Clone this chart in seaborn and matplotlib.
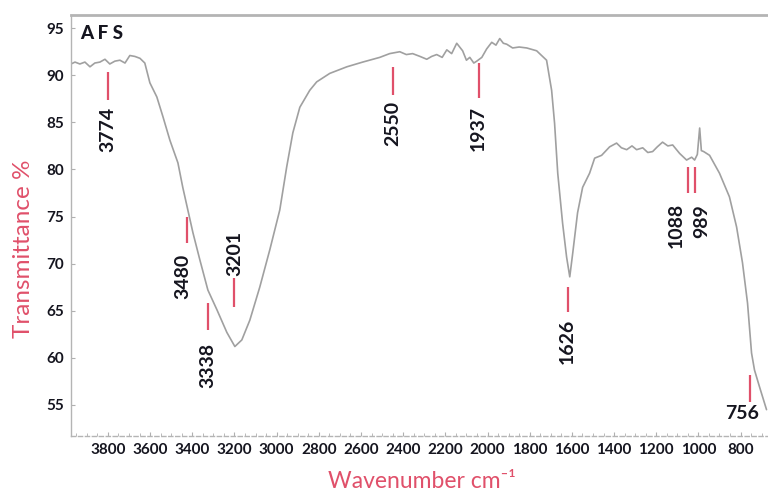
import matplotlib
matplotlib.use("Agg")
import matplotlib.pyplot as plt
import numpy as np
import pandas as pd
import seaborn as sns

# ── spectrum ────────────────────────────────────────────────────────────────
wavenumber = [
    3975, 3956, 3933, 3909, 3885, 3862, 3838, 3814, 3791, 3767, 3743, 3719,
    3696, 3672, 3648, 3625, 3601, 3568, 3539, 3506, 3468, 3445, 3421,
    3397, 3364, 3326, 3283, 3236, 3198, 3165, 3127, 3080, 3032, 2985, 2952,
    2923, 2890, 2843, 2810, 2748, 2667, 2592, 2511, 2464, 2416, 2385, 2355,
    2320, 2288, 2265, 2241, 2215, 2193, 2170, 2146, 2118, 2100, 2084, 2065,
    2051, 2027, 2004, 1980, 1960, 1942, 1925, 1909, 1881, 1850, 1814, 1767,
    1753, 1720, 1696, 1682, 1667, 1644, 1625, 1610, 1596, 1573, 1549, 1516,
    1492, 1459, 1421, 1388, 1365, 1340, 1315, 1293, 1264, 1240, 1217, 1195,
    1170, 1145, 1122, 1089, 1056, 1032, 1018, 1005, 994, 986, 975, 947,
    900, 853, 819, 791, 767, 748, 734, 710, 677,
]
transmittance = [
    91.2, 91.4, 91.2, 91.4, 90.9, 91.3, 91.4, 91.7, 91.2, 91.5, 91.6, 91.3,
    92.1, 92.0, 91.8, 91.3, 89.2, 87.7, 85.6, 83.1, 80.7, 78.1, 75.7,
    73.3, 70.4, 67.2, 65.1, 62.7, 61.2, 61.9, 64.0, 67.5, 71.5, 75.7, 80.3,
    83.9, 86.6, 88.4, 89.3, 90.2, 90.9, 91.4, 91.9, 92.3, 92.5, 92.2, 92.3,
    92.0, 91.7, 92.0, 92.2, 91.9, 92.7, 92.3, 93.4, 92.6, 91.6, 91.9, 91.3,
    91.5, 91.9, 92.8, 93.5, 93.2, 93.9, 93.4, 93.3, 92.9, 93.0, 92.9, 92.6,
    92.3, 91.6, 88.4, 84.9, 79.6, 74.3, 70.7, 68.6, 71.1, 75.4, 78.1, 79.6,
    81.2, 81.5, 82.4, 82.8, 82.3, 82.1, 82.5, 82.1, 82.3, 81.8, 81.9, 82.4,
    82.9, 82.5, 82.6, 81.7, 81.0, 81.3, 81.0, 81.6, 84.4, 82.0, 81.9, 81.5,
    79.6, 77.1, 73.9, 70.1, 65.8, 60.5, 58.7, 56.9, 54.5,
]

# peak labels and where their markers sit on the wavenumber axis
peak_labels = ["3774", "3480", "3338", "3201", "2550", "1937", "1626", "1088", "989", "756"]
peak_pos = [3800, 3426, 3326, 3203, 2449, 2042, 1620, 1051, 1018, 757]

# marker layout: (line top, line bottom, text x, text y, rotation)
mark_layout = [
    (90.3, 87.4, 3800, 84.2, 90),
    (75.0, 72.2, 3445, 68.6, 90),
    (65.8, 63.0, 3326, 59.2, 90),
    (68.5, 65.4, 3198, 71.1, 90),
    (90.9, 87.9, 2449, 84.9, 90),
    (91.3, 87.6, 2042, 84.3, 90),
    (67.5, 64.9, 1620, 61.7, 90),
    (80.3, 77.5, 1103, 74.1, 90),
    (80.3, 77.5, 985, 74.5, 90),
    (58.2, 55.3, 795, 54.1, 0),
]

RED = "#e0506a"
INK = "#15151f"

sns.set_theme(style="white")
plt.rcParams["font.family"] = ["Lato", "DejaVu Sans"]

fig = plt.figure(figsize=(7.68, 4.95), dpi=100)
ax = fig.add_axes([71 / 768, 1 - 436 / 495, 697 / 768, 421 / 495])

df = pd.DataFrame({"wn": wavenumber, "T": transmittance})
sns.lineplot(data=df, x="wn", y="T", sort=False, color="#a0a0a0", lw=1.2, ax=ax)

ax.set_xlim(3975, 670)
ax.set_ylim(51.7, 96.4)
ax.set_xticks(np.arange(3800, 700, -200))
ax.set_yticks(np.arange(55, 96, 5))
ax.set_xticks(np.arange(3950, 670, -50), minor=True)

ax.tick_params(axis="both", which="major", direction="in", length=3, width=0.8,
               color="#b0b0b0", labelsize=11, labelcolor=INK, pad=5)
ax.tick_params(axis="x", which="minor", direction="in", length=2, width=0.6,
               color="#b0b0b0", bottom=True)
ax.tick_params(axis="x", bottom=True)
ax.tick_params(axis="y", left=True)
for lab in ax.get_xticklabels() + ax.get_yticklabels():
    lab.set_fontweight("bold")

for side in ["top", "left", "bottom", "right"]:
    ax.spines[side].set_color("#b4b4b4")
ax.spines["top"].set_linewidth(2.0)
ax.spines["left"].set_linewidth(1.0)
ax.spines["bottom"].set_linewidth(1.0)
ax.spines["bottom"].set_linestyle((0, (3, 2)))
ax.spines["right"].set_visible(False)

ax.set_xlabel("Wavenumber cm\u207b\u00b9", fontsize=16.5, color=RED, va="center")
ax.xaxis.set_label_coords(0.504, -0.108)
ax.set_ylabel("Transmittance %", fontsize=17.5, color=RED, va="center")
ax.yaxis.set_label_coords(-0.068, 0.445)

ax.text(0.013, 0.955, "A F S", transform=ax.transAxes, fontsize=13.5,
        fontweight="black", color=INK, ha="left", va="center")

# ── peak markers ────────────────────────────────────────────────────────────
for label, pos, (y0, y1, tx, ty, rot) in zip(peak_labels, peak_pos, mark_layout):
    ax.plot([pos, pos], [y0, y1], color=RED, lw=1.6, solid_capstyle="butt")
    ax.text(tx, ty, label, rotation=rot, fontsize=14, fontweight="bold",
            color=INK, ha="center", va="center")

fig.savefig("out.png", dpi=100)
